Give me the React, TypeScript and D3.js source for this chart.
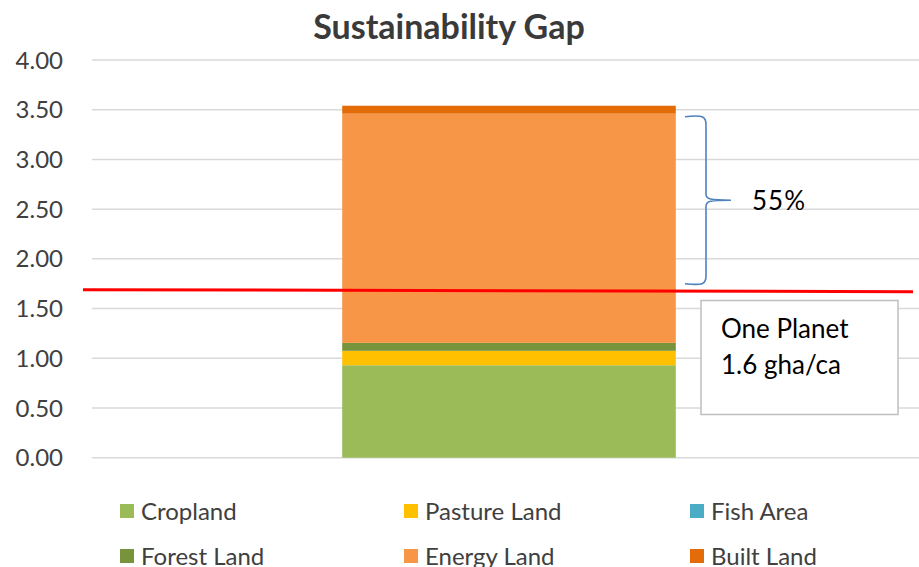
import React from "react";
import * as d3 from "d3";

const categories = ["Footprint"];
const seriesNames = ["Cropland", "Pasture Land", "Fish Area", "Forest Land", "Energy Land", "Built Land"];
const seriesValues = [0.93, 0.145, 0.0, 0.08, 2.305, 0.08];
const seriesColors = ["#9BBB59", "#FFC000", "#4BACC6", "#77933C", "#F79646", "#E36C09"];
const yTicks = [0, 0.5, 1, 1.5, 2, 2.5, 3, 3.5, 4];
const onePlanetLine = [1.69, 1.67];
const braceRange = [1.75, 3.43];
const gapLabel = "55%";
const boxLines = ["One Planet", "1.6 gha/ca"];
const legendOrder = ["Cropland", "Pasture Land", "Fish Area", "Forest Land", "Energy Land", "Built Land"];

const W = 919, H = 567;
const FONT = "Lato, 'Open Sans', sans-serif";

export default function App() {
  const y = d3.scaleLinear().domain([0, 4]).range([457.7, 60]);
  const x = d3.scaleBand<string>().domain(categories).range([92, 926]).paddingInner(0.6).paddingOuter(0.3);

  const stackData = [Object.fromEntries(seriesNames.map((n, i) => [n, seriesValues[i]]))];
  const stacked = d3.stack<any>().keys(seriesNames)(stackData as any);

  const yb0 = y(braceRange[0]);
  const yb1 = y(braceRange[1]);
  const ym = (yb0 + yb1) / 2;
  const bx0 = 685, bx1 = 706, bx2 = 731;
  const brace = `M${bx0},${yb1} C${bx1 - 2},${yb1 - 2} ${bx1},${yb1} ${bx1},${yb1 + 8} L${bx1},${ym - 6} C${bx1},${ym - 1} ${bx1 + 4},${ym} ${bx2},${ym} C${bx1 + 4},${ym} ${bx1},${ym + 1} ${bx1},${ym + 6} L${bx1},${yb0 - 8} C${bx1},${yb0} ${bx1 - 2},${yb0 + 2} ${bx0},${yb0}`;

  const legendX = [120, 404, 690];
  const legendY = [511, 556];

  return (
    <svg width={W} height={H} style={{ position: "absolute", left: 0, top: 0, background: "#fff" }}>
      <rect width={W} height={H} fill="#fff" />
      <text x={449} y={39} textAnchor="middle" fontFamily={FONT} fontWeight="bold" fontSize={34} fill="#3a3a3a">Sustainability Gap</text>
      {yTicks.map((t) => (
        <g key={t}>
          <line x1={92} x2={919} y1={y(t)} y2={y(t)} stroke="#d9d9d9" strokeWidth={1.5} />
          <text x={63} y={y(t)} dy="0.36em" textAnchor="end" fontFamily={FONT} fontSize={24} fill="#404040">{t.toFixed(2)}</text>
        </g>
      ))}
      {stacked.map((s, i) => (
        <g key={s.key}>
          {s.map((d, j) => (
            d[1] - d[0] > 0 ? (
              <rect key={j} x={x(categories[j])} width={x.bandwidth()} y={y(d[1])} height={y(d[0]) - y(d[1])} fill={seriesColors[i]} />
            ) : null
          ))}
        </g>
      ))}
      <line x1={83} x2={913} y1={y(onePlanetLine[0])} y2={y(onePlanetLine[1])} stroke="#FF0000" strokeWidth={3} />
      <path d={brace} fill="none" stroke="#4F81BD" strokeWidth={1.6} />
      <text x={752} y={ym} dy="0.36em" fontFamily={FONT} fontSize={26} letterSpacing={1} fill="#000">{gapLabel}</text>
      <rect x={701} y={300.5} width={197} height={114} fill="#fff" stroke="#bfbfbf" strokeWidth={1.5} />
      {boxLines.map((l, i) => (
        <text key={l} x={721} y={338 + i * 36} fontFamily={FONT} fontSize={26} fill="#000">{l}</text>
      ))}
      {legendOrder.map((n, i) => {
        const col = i % 3, row = Math.floor(i / 3);
        const c = seriesColors[seriesNames.indexOf(n)];
        return (
          <g key={n}>
            <rect x={legendX[col]} y={legendY[row] - 7} width={14} height={14} fill={c} />
            <text x={legendX[col] + 21} y={legendY[row]} dy="0.36em" fontFamily={FONT} fontSize={24} fill="#404040">{n}</text>
          </g>
        );
      })}
    </svg>
  );
}
